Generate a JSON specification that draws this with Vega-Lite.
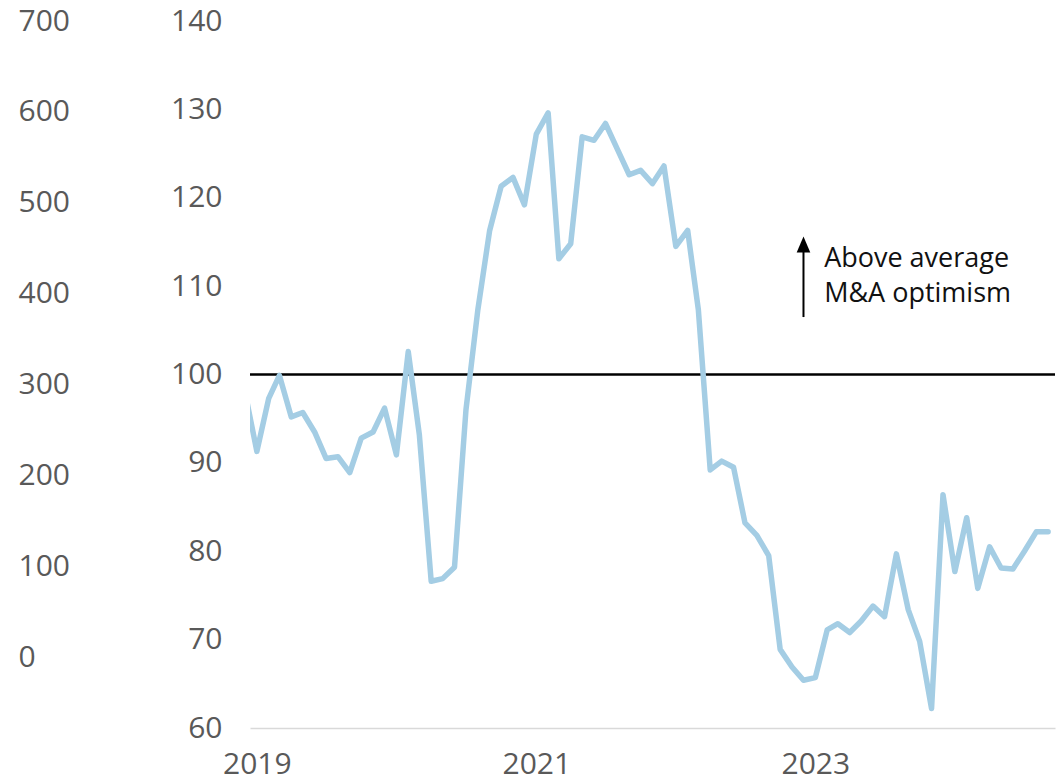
{
  "$schema": "https://vega.github.io/schema/vega-lite/v6.json",
  "width": 805,
  "height": 707,
  "autosize": {"type": "none"},
  "padding": {"left": 250, "top": 21, "right": 4, "bottom": 53},
  "background": "white",
  "config": {
    "view": {"stroke": null},
    "axis": {"labelFont": "Open Sans", "labelFontSize": 30, "labelColor": "#595959", "grid": false, "ticks": false}
  },
  "datasets": {
    "series": [
      {"date": "2018-12-01", "value": 98.0},
      {"date": "2019-01-01", "value": 91.3},
      {"date": "2019-02-01", "value": 97.3},
      {"date": "2019-03-01", "value": 99.9},
      {"date": "2019-04-01", "value": 95.2},
      {"date": "2019-05-01", "value": 95.7},
      {"date": "2019-06-01", "value": 93.5},
      {"date": "2019-07-01", "value": 90.5},
      {"date": "2019-08-01", "value": 90.7},
      {"date": "2019-09-01", "value": 88.9},
      {"date": "2019-10-01", "value": 92.8},
      {"date": "2019-11-01", "value": 93.5},
      {"date": "2019-12-01", "value": 96.2},
      {"date": "2020-01-01", "value": 90.9},
      {"date": "2020-02-01", "value": 102.6},
      {"date": "2020-03-01", "value": 93.2},
      {"date": "2020-04-01", "value": 76.6},
      {"date": "2020-05-01", "value": 76.9},
      {"date": "2020-06-01", "value": 78.2},
      {"date": "2020-07-01", "value": 96.0},
      {"date": "2020-08-01", "value": 107.3},
      {"date": "2020-09-01", "value": 116.3},
      {"date": "2020-10-01", "value": 121.3},
      {"date": "2020-11-01", "value": 122.3},
      {"date": "2020-12-01", "value": 119.2},
      {"date": "2021-01-01", "value": 127.2},
      {"date": "2021-02-01", "value": 129.6},
      {"date": "2021-03-01", "value": 113.1},
      {"date": "2021-04-01", "value": 114.8},
      {"date": "2021-05-01", "value": 126.9},
      {"date": "2021-06-01", "value": 126.5},
      {"date": "2021-07-01", "value": 128.4},
      {"date": "2021-08-01", "value": 125.5},
      {"date": "2021-09-01", "value": 122.6},
      {"date": "2021-10-01", "value": 123.1},
      {"date": "2021-11-01", "value": 121.6},
      {"date": "2021-12-01", "value": 123.6},
      {"date": "2022-01-01", "value": 114.5},
      {"date": "2022-02-01", "value": 116.3},
      {"date": "2022-03-01", "value": 107.3},
      {"date": "2022-04-01", "value": 89.2},
      {"date": "2022-05-01", "value": 90.2},
      {"date": "2022-06-01", "value": 89.5},
      {"date": "2022-07-01", "value": 83.2},
      {"date": "2022-08-01", "value": 81.8},
      {"date": "2022-09-01", "value": 79.5},
      {"date": "2022-10-01", "value": 68.9},
      {"date": "2022-11-01", "value": 66.9},
      {"date": "2022-12-01", "value": 65.4},
      {"date": "2023-01-01", "value": 65.7},
      {"date": "2023-02-01", "value": 71.1},
      {"date": "2023-03-01", "value": 71.8},
      {"date": "2023-04-01", "value": 70.8},
      {"date": "2023-05-01", "value": 72.1},
      {"date": "2023-06-01", "value": 73.8},
      {"date": "2023-07-01", "value": 72.6},
      {"date": "2023-08-01", "value": 79.7},
      {"date": "2023-09-01", "value": 73.4},
      {"date": "2023-10-01", "value": 69.8},
      {"date": "2023-11-01", "value": 62.2},
      {"date": "2023-12-01", "value": 86.4},
      {"date": "2024-01-01", "value": 77.7},
      {"date": "2024-02-01", "value": 83.8},
      {"date": "2024-03-01", "value": 75.8},
      {"date": "2024-04-01", "value": 80.5},
      {"date": "2024-05-01", "value": 78.1},
      {"date": "2024-06-01", "value": 78.0},
      {"date": "2024-07-01", "value": 80.0},
      {"date": "2024-08-01", "value": 82.2},
      {"date": "2024-09-01", "value": 82.2}
    ],
    "ref": [{"value": 100}],
    "arrow": [{"date": "2022-12-01", "low": 106.5, "high": 114.7}],
    "note": [{"date": "2023-01-24", "value": 112.2, "label": "Above average\nM&A optimism"}],
    "outer": [{"level": 0}, {"level": 700}]
  },
  "layer": [
    {
      "layer": [
        {
          "data": {"name": "ref"},
          "mark": {"type": "rule", "color": "#000000", "strokeWidth": 2.5},
          "encoding": {"y": {"field": "value", "type": "quantitative", "title": null}}
        },
        {
          "data": {"name": "series"},
          "mark": {"type": "line", "color": "#a4cde4", "strokeWidth": 5.5, "strokeJoin": "round", "strokeCap": "round", "clip": true},
          "encoding": {
            "x": {
              "field": "date", "type": "temporal", "title": null,
              "scale": {"domain": [{"year": 2018, "month": 12, "date": 14}, {"year": 2024, "month": 9, "date": 19}], "nice": false},
              "axis": {
                "values": [{"year": 2019, "month": 1, "date": 1}, {"year": 2021, "month": 1, "date": 1}, {"year": 2023, "month": 1, "date": 1}],
                "format": "%Y", "labelPadding": 21, "labelFlush": false, "labelAlign": "center",
                "domainColor": "#d9d9d9", "domainWidth": 1.5
              }
            },
            "y": {
              "field": "value", "type": "quantitative", "title": null,
              "scale": {"domain": [60, 140], "nice": false, "zero": false},
              "axis": {"orient": "left", "values": [60, 70, 80, 90, 100, 110, 120, 130, 140], "labelPadding": 28, "domain": false}
            }
          }
        },
        {
          "data": {"name": "arrow"},
          "mark": {"type": "rule", "color": "#000000", "strokeWidth": 2},
          "encoding": {
            "x": {"field": "date", "type": "temporal"},
            "y": {"field": "low", "type": "quantitative", "title": null},
            "y2": {"field": "high"}
          }
        },
        {
          "data": {"name": "arrow"},
          "mark": {"type": "point", "shape": "M0,-1L0.85,1L-0.85,1Z", "size": 256, "filled": true, "color": "#000000", "opacity": 1},
          "encoding": {
            "x": {"field": "date", "type": "temporal"},
            "y": {"field": "high", "type": "quantitative", "title": null}
          }
        },
        {
          "data": {"name": "note"},
          "mark": {"type": "text", "align": "left", "baseline": "alphabetic", "font": "Open Sans", "fontSize": 27, "color": "#111111", "lineBreak": "\n", "lineHeight": 35},
          "encoding": {
            "x": {"field": "date", "type": "temporal"},
            "y": {"field": "value", "type": "quantitative", "title": null},
            "text": {"field": "label"}
          }
        }
      ]
    },
    {
      "data": {"name": "outer"},
      "mark": {"type": "point", "opacity": 0},
      "encoding": {
        "y": {
          "field": "level", "type": "quantitative", "title": null,
          "scale": {"domain": [-77, 700], "nice": false, "zero": false},
          "axis": {"orient": "left", "values": [0, 100, 200, 300, 400, 500, 600, 700], "labelAlign": "left", "labelPadding": 0, "offset": 232, "domain": false}
        }
      }
    }
  ],
  "resolve": {"scale": {"y": "independent"}, "axis": {"y": "independent"}}
}
